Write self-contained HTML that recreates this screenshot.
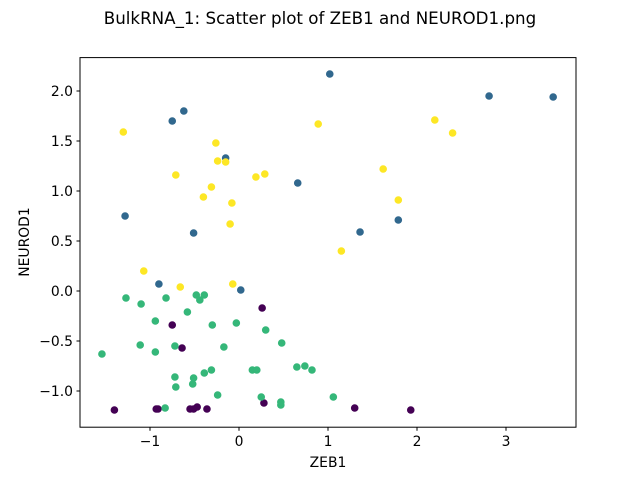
<!DOCTYPE html>
<html><head><meta charset="utf-8"><style>
body{margin:0;background:#fff;}
svg{display:block;font-family:"DejaVu Sans","Liberation Sans",sans-serif;}
</style></head><body>
<svg id="chart" width="640" height="480">
<text x="320" y="24" text-anchor="middle" font-size="16.7">BulkRNA_1: Scatter plot of ZEB1 and NEUROD1.png</text>
<g id="marks"></g>
<rect x="80" y="57.6" width="496" height="369.6" fill="none" stroke="#000" stroke-width="1"/>
<g id="axes"></g>
<text x="328" y="467" text-anchor="middle" font-size="13.9">ZEB1</text>
<text transform="translate(29,242) rotate(-90)" text-anchor="middle" font-size="13.9">NEUROD1</text>
</svg>
<script>
const xTicks=[-1,0,1,2,3];
const yTicks=[-1.0,-0.5,0.0,0.5,1.0,1.5,2.0];
const blueX=[1.02,2.81,3.53,-0.62,-0.75,-0.15,0.66,-1.28,1.79,1.36,-0.51,-0.90,0.02];
const blueY=[2.17,1.95,1.94,1.80,1.70,1.33,1.08,0.75,0.71,0.59,0.58,0.07,0.01];
const yellowX=[-1.30,0.89,2.20,2.40,-0.26,-0.15,-0.24,-0.71,0.29,0.19,-0.31,1.62,1.79,-0.40,-0.08,-0.10,1.15,-1.07,-0.66,-0.07];
const yellowY=[1.59,1.67,1.71,1.58,1.48,1.29,1.30,1.16,1.17,1.14,1.04,1.22,0.91,0.94,0.88,0.67,0.40,0.20,0.04,0.07];
const greenX=[-1.27,-1.10,-1.54,-0.82,-0.48,-0.39,-0.44,-0.58,-0.94,-0.30,-0.03,0.30,-1.11,-0.94,-0.72,-0.17,0.48,-0.72,-0.51,-0.39,-0.31,-0.71,-0.52,0.15,0.20,0.65,0.74,0.82,-0.24,0.25,1.06,0.47,0.47,-0.83];
const greenY=[-0.07,-0.13,-0.63,-0.07,-0.04,-0.04,-0.09,-0.21,-0.30,-0.34,-0.32,-0.39,-0.54,-0.61,-0.55,-0.56,-0.52,-0.86,-0.87,-0.82,-0.79,-0.96,-0.93,-0.79,-0.79,-0.76,-0.75,-0.79,-1.04,-1.06,-1.06,-1.11,-1.14,-1.17];
const purpleX=[-0.75,-0.64,0.26,-1.40,-0.93,-0.91,-0.55,-0.51,-0.47,-0.36,0.28,1.30,1.93];
const purpleY=[-0.34,-0.57,-0.17,-1.19,-1.18,-1.18,-1.18,-1.18,-1.16,-1.18,-1.12,-1.17,-1.19];
const NS="http://www.w3.org/2000/svg";
const xs=v=>239+v*89;
const ys=v=>291-v*100;
const marks=document.getElementById('marks'),axes=document.getElementById('axes');
function mk(t,a,p){const e=document.createElementNS(NS,t);for(const k in a)e.setAttribute(k,a[k]);p.appendChild(e);return e;}
const series=[[purpleX,purpleY,'#440154','purple'],[blueX,blueY,'#31688e','blue'],[greenX,greenY,'#35b779','green'],[yellowX,yellowY,'#fde725','yellow']];
series.forEach(([X,Y,c,n])=>{X.forEach((x,i)=>{
 const el=mk('circle',{cx:xs(x),cy:ys(Y[i]),r:3.8,fill:c},marks);
 
 
});});
xTicks.forEach(t=>{
 const l=mk('line',{x1:xs(t),x2:xs(t),y1:427.2,y2:430.7,stroke:'#000'},axes);
 
 
 const tx=mk('text',{x:xs(t),y:446,'text-anchor':'middle','font-size':13.9},axes);
 tx.textContent=(t<0?'\u2212'+(-t):t);
 
 
});
yTicks.forEach(t=>{
 const l=mk('line',{x1:76.5,x2:80,y1:ys(t),y2:ys(t),stroke:'#000'},axes);
 
 
 const tx=mk('text',{x:73,y:ys(t)+5,'text-anchor':'end','font-size':13.9},axes);
 tx.textContent=(t<0?'\u2212'+(-t).toFixed(1):t.toFixed(1));
 
 
});
</script>
</body></html>
